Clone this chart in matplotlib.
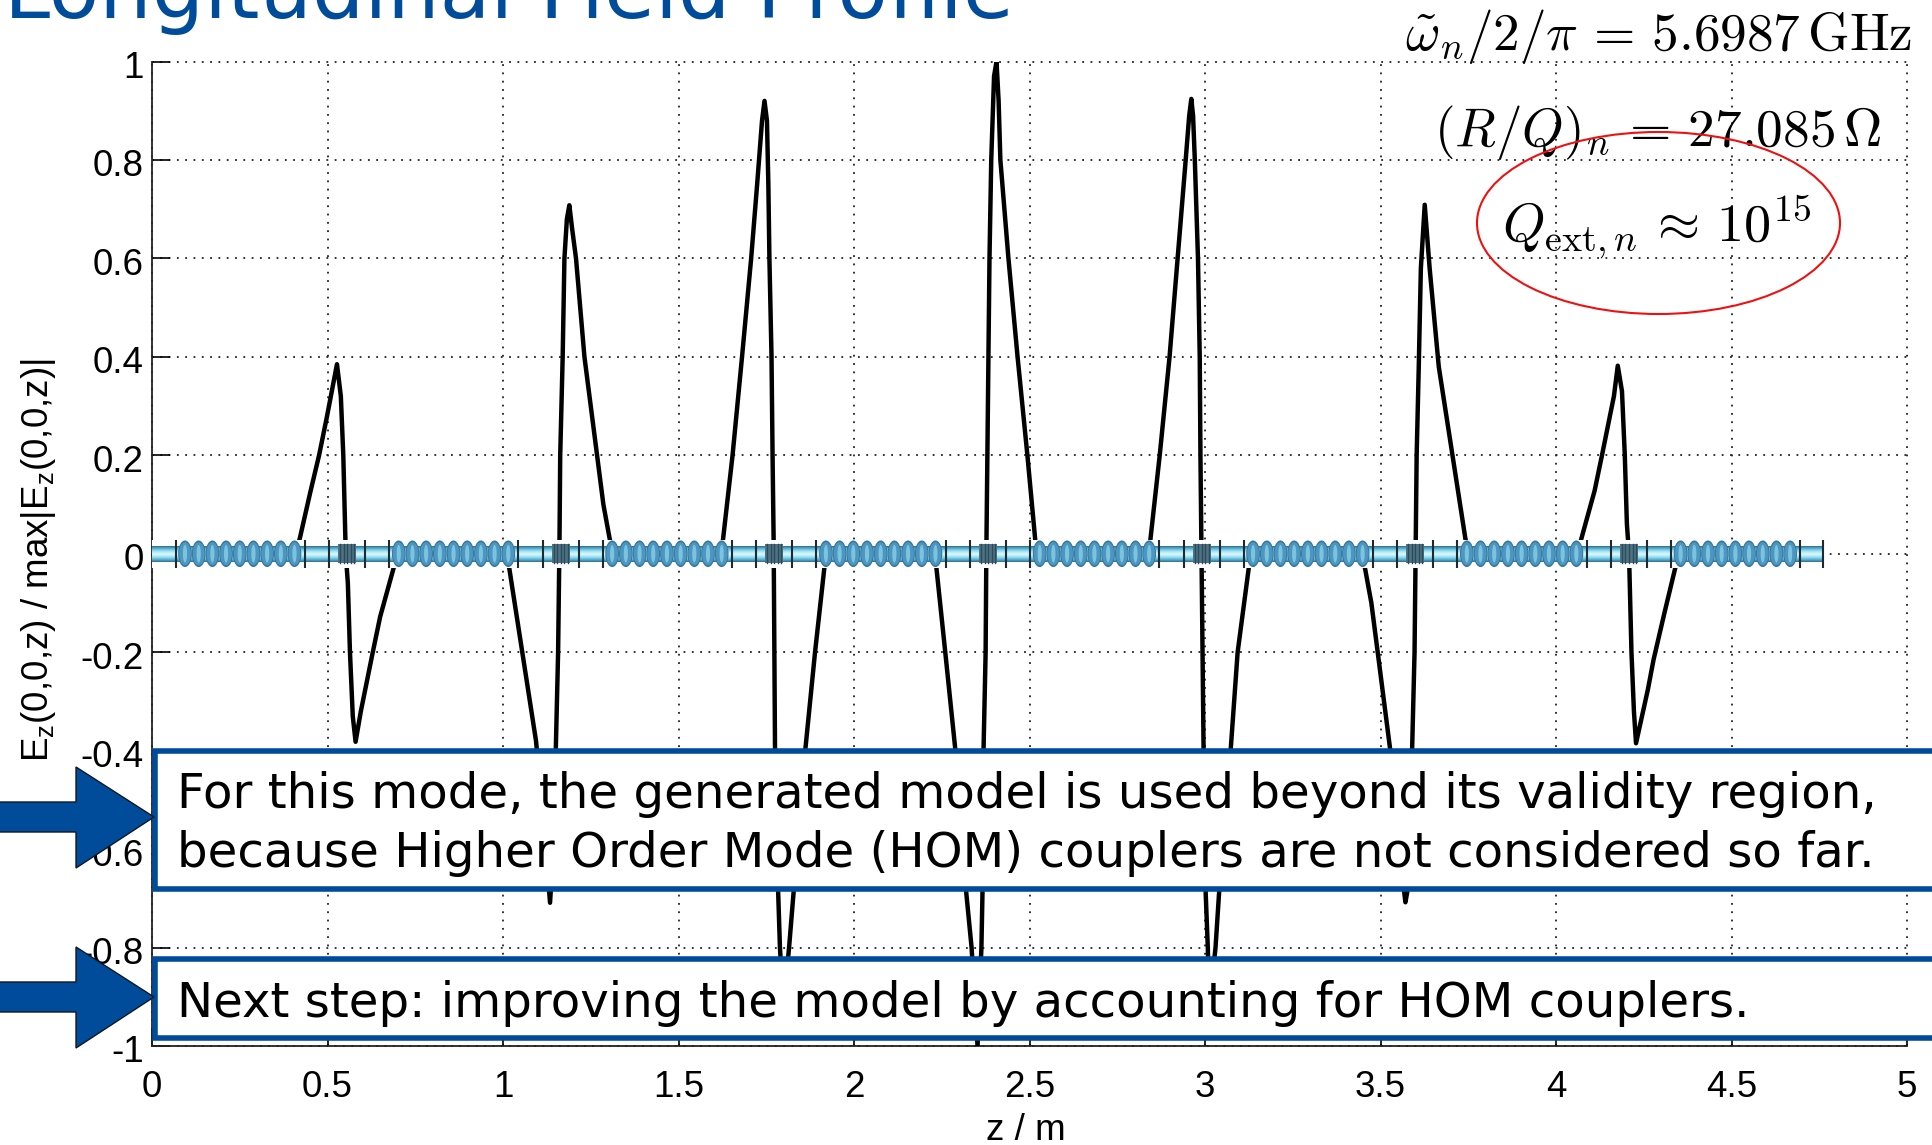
import numpy as np
import matplotlib
matplotlib.use("Agg")
import matplotlib.pyplot as plt
from matplotlib.patches import Rectangle, Ellipse, Polygon
from matplotlib.transforms import Affine2D, ScaledTranslation
from matplotlib.colors import LinearSegmentedColormap

W, H = 1932, 1145
plt.rcParams['font.family'] = ['Liberation Sans', 'DejaVu Sans']
plt.rcParams['mathtext.fontset'] = 'custom'
plt.rcParams['mathtext.rm'] = 'Liberation Sans'
plt.rcParams['mathtext.it'] = 'Liberation Sans:italic'

# --- data ---
curve_z = [0.07, 0.41, 0.422, 0.451, 0.476, 0.498, 0.515, 0.527, 0.538, 0.545, 0.552, 0.558, 0.564, 0.572, 0.58, 0.595, 0.629, 0.65, 0.688, 0.70,
           1.005, 1.018, 1.055, 1.094, 1.12, 1.134, 1.145, 1.151, 1.157, 1.161, 1.163, 1.170, 1.175, 1.182, 1.189, 1.197, 1.208, 1.22, 1.232, 1.25, 1.268, 1.286, 1.304, 1.315,
           1.62, 1.627, 1.654, 1.681, 1.694, 1.707, 1.724, 1.738, 1.745, 1.752, 1.756, 1.759, 1.765, 1.768, 1.771, 1.773, 1.775, 1.78, 1.789, 1.799, 1.815, 1.838, 1.861, 1.889, 1.92, 1.93,
           2.225, 2.235, 2.26, 2.289, 2.32, 2.335, 2.352, 2.363, 2.366, 2.369, 2.375, 2.377, 2.38, 2.383, 2.386, 2.391, 2.399, 2.406, 2.412, 2.417, 2.44, 2.466, 2.494, 2.52, 2.53,
           2.83, 2.84, 2.871, 2.899, 2.922, 2.945, 2.955, 2.961, 2.966, 2.971, 2.98, 2.985, 2.987, 2.99, 2.993, 2.996, 3.002, 3.008, 3.012, 3.03, 3.04, 3.073, 3.093, 3.13, 3.14,
           3.445, 3.456, 3.474, 3.492, 3.51, 3.528, 3.54, 3.552, 3.563, 3.571, 3.578, 3.585, 3.59, 3.597, 3.6, 3.603, 3.609, 3.615, 3.626, 3.64, 3.666, 3.705, 3.742, 3.755,
           4.06, 4.072, 4.11, 4.131, 4.165, 4.176, 4.188, 4.196, 4.202, 4.208, 4.215, 4.222, 4.228, 4.245, 4.262, 4.278, 4.309, 4.338, 4.35, 4.75]
curve_v = [0, 0, 0.034, 0.125, 0.2, 0.277, 0.34, 0.385, 0.32, 0.2, 0, -0.06, -0.2, -0.33, -0.382, -0.32, -0.2, -0.128, -0.03, 0,
           0, -0.03, -0.2, -0.38, -0.58, -0.709, -0.58, -0.38, -0.2, 0.03, 0.2, 0.4, 0.6, 0.68, 0.708, 0.66, 0.6, 0.5, 0.4, 0.3, 0.2, 0.1, 0.03, 0,
           0, 0.03, 0.2, 0.4, 0.5, 0.6, 0.75, 0.88, 0.92, 0.88, 0.75, 0.6, 0.4, 0.2, 0.03, -0.2, -0.4, -0.6, -0.8, -0.924, -0.8, -0.6, -0.4, -0.2, 0, 0,
           0, -0.03, -0.2, -0.4, -0.69, -0.8, -1.0, -0.8, -0.69, -0.4, -0.2, 0, 0.2, 0.4, 0.6, 0.8, 0.97, 1.0, 0.92, 0.8, 0.6, 0.4, 0.2, 0, 0,
           0, 0, 0.2, 0.4, 0.6, 0.8, 0.89, 0.924, 0.89, 0.8, 0.6, 0.4, 0.2, 0, -0.2, -0.4, -0.69, -0.8, -0.92, -0.8, -0.69, -0.4, -0.2, 0, 0,
           0, -0.03, -0.1, -0.2, -0.3, -0.4, -0.5, -0.6, -0.66, -0.708, -0.68, -0.6, -0.4, -0.2, 0, 0.2, 0.38, 0.58, 0.709, 0.58, 0.38, 0.2, 0.03, 0,
           0, 0.03, 0.128, 0.2, 0.32, 0.382, 0.33, 0.2, 0.06, 0, -0.2, -0.32, -0.385, -0.33, -0.275, -0.215, -0.12, -0.034, 0, 0]
x_ticks = [0, 0.5, 1, 1.5, 2, 2.5, 3, 3.5, 4, 4.5, 5]
x_tick_labels = ['0', '0.5', '1', '1.5', '2', '2.5', '3', '3.5', '4', '4.5', '5']
y_ticks = [-1, -0.8, -0.6, -0.4, -0.2, 0, 0.2, 0.4, 0.6, 0.8, 1]
y_tick_labels = ['-1', '-0.8', '-0.6', '-0.4', '-0.2', '0', '0.2', '0.4', '0.6', '0.8', '1']
module_starts = [0.067, 0.676, 1.284, 1.893, 2.502, 3.110, 3.719, 4.328]
module_end_offset = 0.368
gap_mark_offsets = [0.438, 0.54]
cell_offsets = [0.027, 0.066, 0.105, 0.144, 0.183, 0.222, 0.261, 0.300, 0.339]
coupler_offset = 0.489
string_end = 4.762
title = 'Longitudinal Field Profile'
box1_lines = ['For this mode, the generated model is used beyond its validity region,',
              'because Higher Order Mode (HOM) couplers are not considered so far.']
box2_line = 'Next step: improving the model by accounting for HOM couplers.'
BLUE = '#004c9b'

fig = plt.figure(figsize=(W / 100, H / 100), dpi=100, facecolor='white')
ax = fig.add_axes([152 / W, 1 - 1046 / H, (1907 - 152) / W, (1046 - 61.5) / H])
px = Affine2D().scale(1, -1).translate(0, H)   # top-left pixel coordinates

ax.plot(curve_z, curve_v, color='black', lw=3.2, zorder=3, solid_joinstyle='round')
ax.set_xlim(0, 5)
ax.set_ylim(-1, 1)
ax.set_xticks(x_ticks, x_tick_labels)
ax.set_yticks(y_ticks, y_tick_labels)
ax.grid(True, color='#222222', lw=1.3, linestyle=(0, (1, 3.6)), zorder=1)
for gl in ax.get_xgridlines() + ax.get_ygridlines():
    gl.set_clip_on(False)
ax.tick_params(direction='in', length=13, width=1.2, labelsize=26.5, top=False, right=False)
ax.tick_params(axis='x', pad=17.5)
ax.tick_params(axis='y', pad=6)
shift_down = ScaledTranslation(0, -3 / 100, fig.dpi_scale_trans)
for lbl in ax.get_yticklabels():
    lbl.set_transform(lbl.get_transform() + shift_down)
for s in ('top', 'right'):
    ax.spines[s].set_visible(False)
for s in ('left', 'bottom'):
    ax.spines[s].set_linewidth(1.3)
    ax.spines[s].set_color('#222222')
ax.set_axisbelow(True)

# accelerator string picture
Z = 4
hw = 0.028
ax.add_patch(Rectangle((0, -hw), string_end, 2 * hw, fc='white', ec='none', zorder=Z))
tube_cmap = LinearSegmentedColormap.from_list('tube', ['#2f6f8f', '#5fb8d8', '#a4e4f4', '#dff8fc', '#a4e4f4', '#5fb8d8', '#2f6f8f'])
ax.imshow(np.linspace(0, 1, 64)[:, None], extent=(0, string_end, -0.016, 0.016), aspect='auto',
          cmap=tube_cmap, zorder=Z + 0.1, interpolation='bilinear')
ax.set_xlim(0, 5)
ax.set_ylim(-1, 1)
marks = [string_end]
for m, start in enumerate(module_starts):
    for c in cell_offsets:
        zc = start + c
        ax.add_patch(Ellipse((zc, 0), 0.039, 0.054, fc='#35769b', ec='none', zorder=Z + 0.2))
        ax.add_patch(Ellipse((zc, 0), 0.034, 0.047, fc='#4c96c1', ec='none', zorder=Z + 0.3))
        ax.add_patch(Ellipse((zc, 0), 0.012, 0.036, fc='#7cc4dd', ec='none', zorder=Z + 0.4))
    marks += [start, start + module_end_offset]
    if m < 7:
        marks += [start + off for off in gap_mark_offsets]
        zc = start + coupler_offset
        ax.add_patch(Rectangle((zc - 0.0255, -0.0193), 0.051, 0.0386, fc='#4d7385', ec='none', zorder=Z + 0.6))
        for d in np.linspace(-0.02, 0.02, 5):
            ax.plot([zc + d] * 2, [-0.0193, 0.0193], color='#2d4a58', lw=1.0, zorder=Z + 0.7)
ax.vlines(marks, -hw, hw, color='#1c2a33', lw=1.5, zorder=Z + 0.5)

# axis labels
fig.text(1026 / W, 1 - 1140 / H, 'z / m', fontsize=26.5, ha='center', va='baseline', zorder=6)
fig.text(58 / W, 1 - 560 / H, r'E$_{\mathrm{z}}$(0,0,z) / max|E$_{\mathrm{z}}$(0,0,z)|', fontsize=26.5, rotation=90,
         ha='right', va='center', zorder=6)

# overlays
fig.text(4 / W, 1 - 18 / H, title, fontsize=59.6, color=BLUE, family='DejaVu Sans', ha='left', va='baseline')

def boxed(y0, y1):
    fig.add_artist(Rectangle((155, y0), 1900, y1 - y0, transform=px, fc='white', ec=BLUE, lw=4, zorder=7))

boxed(751, 888.5)
boxed(958.5, 1037.5)
for (ty, txt) in ((808, box1_lines[0]), (867, box1_lines[1]), (1017, box2_line)):
    fig.text(177 / W, 1 - ty / H, txt, fontsize=34.75, family='DejaVu Sans', ha='left', va='baseline', color='black', zorder=8)

def arrow(y_mid):
    pts = [(-5, y_mid - 15), (76, y_mid - 15), (76, y_mid - 50), (154, y_mid), (76, y_mid + 51), (76, y_mid + 15), (-5, y_mid + 15)]
    fig.add_artist(Polygon(pts, closed=True, transform=px, fc=BLUE, ec='#101820', lw=1, zorder=9))

arrow(817)
arrow(997)

# formulas
fig.text(1912 / W, 1 - 50 / H, r'$\tilde{\omega}_n/2/\pi\,=\,5.6987\,\mathrm{GHz}$', fontsize=38.3,
         math_fontfamily='cm', ha='right', va='baseline', zorder=6)
fig.text(1881 / W, 1 - 146 / H, r'$(R/Q)_n\,=\,27.085\,\Omega$', fontsize=38.3,
         math_fontfamily='cm', ha='right', va='baseline', zorder=6)
fig.text(1811 / W, 1 - 242 / H, r'$Q_{\mathrm{ext},n}\,\approx\,10^{15}$', fontsize=39,
         math_fontfamily='cm', ha='right', va='baseline', zorder=6)
fig.add_artist(Ellipse((1658.5, 223), 363, 182, transform=px, fc='none', ec='#ee1111', lw=1.5, zorder=6.5))

fig.savefig('out.png', dpi=100, facecolor='white')
